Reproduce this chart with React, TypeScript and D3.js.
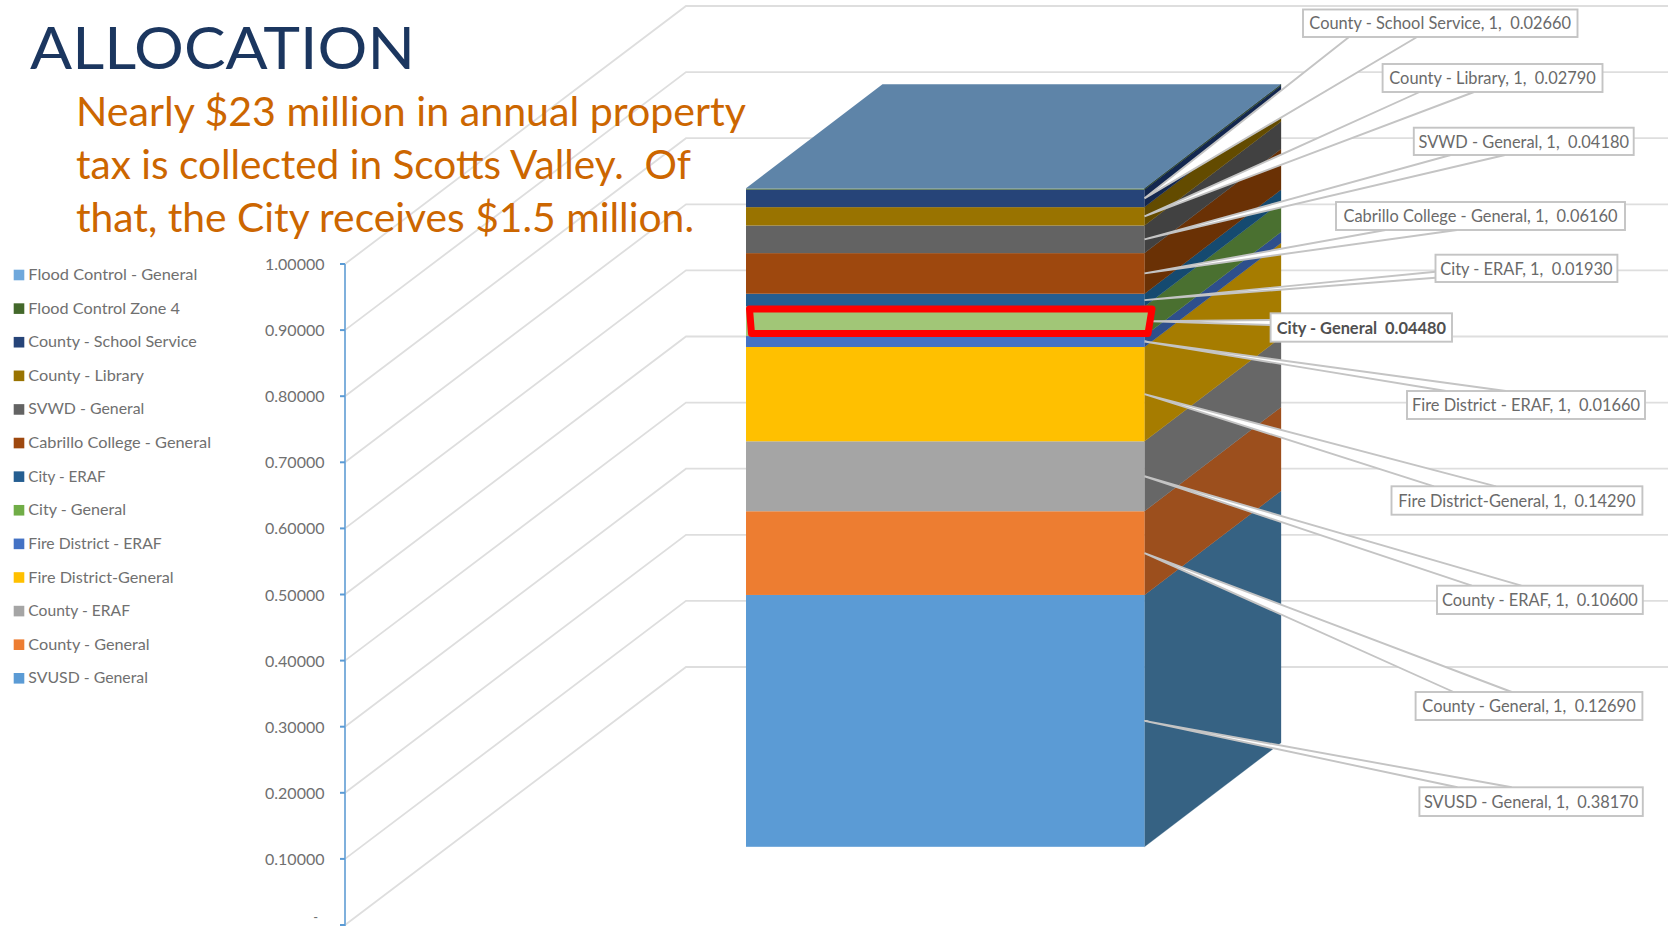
import React from "react";
import * as d3 from "d3";

const seriesNames = ["SVUSD - General","County - General","County - ERAF","Fire District-General","Fire District - ERAF","City - General","City - ERAF","Cabrillo College - General","SVWD - General","County - Library","County - School Service","Flood Control Zone 4","Flood Control - General"];
const seriesValues = [0.3817,0.1269,0.106,0.1429,0.0166,0.0448,0.0193,0.0616,0.0418,0.0279,0.0266,0.0015,0.0005];
const axisTicks = [0,0.1,0.2,0.3,0.4,0.5,0.6,0.7,0.8,0.9,1];
const bodyLines = ["Nearly $23 million in annual property","tax is collected in Scotts Valley.  Of","that, the City receives $1.5 million."];

// styles and layout, kept apart from the values
const frontColors = ["#5B9BD5","#ED7D31","#A5A5A5","#FFC000","#4472C4","#A1C677","#255E91","#9E480E","#636363","#997300","#264478","#43682B","#5E84A8"];
const sideColors = ["#366283","#9C4F1D","#676767","#A67C00","#2E4F8C","#4A7030","#154A70","#6A3105","#414141","#634B00","#13274F","#2F4A1E","#10263F"];
const legendColors = ["#5B9BD5","#ED7D31","#A5A5A5","#FFC000","#4472C4","#70AD47","#255E91","#9E480E","#636363","#997300","#264478","#43682B","#6FA8DC"];
const legendEnds = [148,149.7,130,173.7,161.7,126,105.7,211,144.3,144,196.7,180,197.3];
type Box = { x0:number; x1:number; y0:number; y1:number; side:"top"|"bottom"|"left"; a:number; b:number };
const labelBoxes: (Box|null)[] = [
  {x0:1419.4,x1:1642.8,y0:787.3,y1:816,side:"top",a:1457.4,b:1511.7},
  {x0:1415.6,x1:1642.4,y0:692,y1:720,side:"top",a:1453.6,b:1511.7},
  {x0:1437,x1:1642.8,y0:585.7,y1:614,side:"top",a:1471.8,b:1521.4},
  {x0:1391.5,x1:1642.4,y0:486.3,y1:514.7,side:"top",a:1434,b:1496},
  {x0:1407,x1:1645,y0:391,y1:419,side:"top",a:1446,b:1505.8},
  {x0:1270.6,x1:1452,y0:313.3,y1:341.7,side:"left",a:320,b:325},
  {x0:1435.5,x1:1617.4,y0:254.7,y1:282,side:"left",a:271.7,b:277.7},
  {x0:1336,x1:1625,y0:202,y1:230,side:"bottom",a:1385.5,b:1457},
  {x0:1413.8,x1:1633.7,y0:127.7,y1:155,side:"bottom",a:1450.7,b:1505},
  {x0:1382.6,x1:1602.5,y0:64,y1:92,side:"bottom",a:1419.6,b:1474},
  {x0:1303,x1:1577.5,y0:9.5,y1:37,side:"bottom",a:1349,b:1417},
  null,null,
];

const W = 1668, H = 926;
const FONT = "Lato, 'Noto Sans', sans-serif";
const axisX = 345;
const axisY = d3.scaleLinear().domain([0,1]).range([925,264]);
const barY = d3.scaleLinear().domain([0,1]).range([846.8,187]);
const barX0 = 746, barX1 = 1144.5;
const depthX = 136.5, depthY = -104;
const gridDx = 341, gridDy = -258;

const fmt = d3.format(".5f");
const poly = (pts:[number,number][]) => (d3.line()(pts) as string) + "Z";

const stackRows = [Object.fromEntries(seriesNames.map((n,i)=>[n,seriesValues[i]]))];
const stacked = d3.stack().keys(seriesNames)(stackRows as any);
const layers = stacked.map((s,i)=>({name:seriesNames[i],v:seriesValues[i],lo:s[0][0],hi:s[0][1],i}));
const byName = layers.slice().reverse();
const legendY = d3.scalePoint().domain(byName.map(d=>d.name)).range([275,678.3]);
const cityIdx = seriesNames.indexOf("City - General");

export default function App(){
  const topY = barY(d3.sum(seriesValues));
  return (
    <svg width={W} height={H} viewBox={`0 0 ${W} ${H}`} style={{position:"absolute",left:0,top:0,display:"block",background:"#fff"}}>
      {/* walls */}
      {axisTicks.map(t=>{
        const y=axisY(t);
        return <path key={t} fill="none" stroke="#DEDEDE" strokeWidth={1.8}
          d={d3.line()([[axisX,y],[axisX+gridDx,y+gridDy],[W,y+gridDy]]) as string}/>;
      })}
      {/* axis */}
      <line x1={axisX} x2={axisX} y1={axisY(1)} y2={axisY(0)+1} stroke="#7FB0DC" strokeWidth={2}/>
      {axisTicks.map(t=>(
        <g key={t}>
          <line x1={axisX-5} x2={axisX} y1={axisY(t)} y2={axisY(t)} stroke="#5B9BD5" strokeWidth={2}/>
          {t===0
            ? <text x={318} y={922} textAnchor="end" fontFamily={FONT} fontSize={13} fill="#707070">-</text>
            : <text x={324.5} y={axisY(t)+2} textAnchor="end" dominantBaseline="middle" fontFamily={FONT} fontSize={16} fill="#707070">{fmt(t)}</text>}
        </g>
      ))}
      {/* bar */}
      {layers.map(l=>(
        <g key={l.name}>
          <path fill={sideColors[l.i]} stroke={sideColors[l.i]} strokeWidth={0.3} d={poly([[barX1,barY(l.lo)],[barX1+depthX,barY(l.lo)+depthY],[barX1+depthX,barY(l.hi)+depthY],[barX1,barY(l.hi)]])}/>
          <rect x={barX0} width={barX1-barX0} y={barY(l.hi)} height={barY(l.lo)-barY(l.hi)} fill={frontColors[l.i]}/>
        </g>
      ))}
      <path fill="#5E84A8" d={poly([[barX0,topY],[barX1,topY],[barX1+depthX,topY+depthY],[barX0+depthX,topY+depthY]])}/>
      {/* callout wedges */}
      {layers.map(l=>{
        const b=labelBoxes[l.i]; if(!b) return null;
        const isCity=l.i===cityIdx;
        const apex:[number,number]=[isCity?1152:barX1,barY((l.lo+l.hi)/2)];
        const p:[number,number]= b.side==="top"?[b.a,b.y0]:b.side==="bottom"?[b.a,b.y1]:[b.x0,b.a];
        const q:[number,number]= b.side==="top"?[b.b,b.y0]:b.side==="bottom"?[b.b,b.y1]:[b.x0,b.b];
        return <g key={l.name}>
          <path fill="#fff" d={poly([apex,p,q])}/>
          <path fill="none" stroke="#C4C4C4" strokeWidth={1.9} d={d3.line()([p,apex,q]) as string}/>
        </g>;
      })}
      {/* highlight */}
      <path fill="#A1C677" stroke="#FF0000" strokeWidth={7} strokeLinejoin="round"
        d={poly([[749.5,309],[1152,309],[1148,333.5],[751.5,333.5]])}/>
      {/* callout boxes */}
      {layers.map(l=>{
        const b=labelBoxes[l.i]; if(!b) return null;
        const isCity=l.i===cityIdx;
        const txt=isCity?`${l.name}  ${fmt(l.v)}`:`${l.name}, 1,  ${fmt(l.v)}`;
        return <g key={l.name}>
          <rect x={b.x0} y={b.y0} width={b.x1-b.x0} height={b.y1-b.y0} fill="#fff" stroke="#C4C4C4" strokeWidth={1.9}/>
          <text x={(b.x0+b.x1)/2} y={(b.y0+b.y1)/2+2} textAnchor="middle" dominantBaseline="middle" fontFamily={FONT} fontSize={16.4}
            fontWeight={isCity?700:400} fill={isCity?"#505050":"#6A6A6A"} style={{whiteSpace:"pre"}}>{txt}</text>
        </g>;
      })}
      {/* legend */}
      {byName.map(l=>{
        const y=legendY(l.name) as number;
        return <g key={l.name}>
          <rect x={13.7} y={y-5.3} width={10.6} height={10.6} fill={legendColors[l.i]}/>
          <text x={28.3} y={y+1} dominantBaseline="middle" fontFamily={FONT} fontSize={16} fill="#707070"
            textLength={legendEnds[l.i]-28.3} lengthAdjust="spacingAndGlyphs">{l.name}</text>
        </g>;
      })}
      {/* heading */}
      <text x={30} y={69} fontFamily={FONT} fontSize={59} fill="#1B365F" textLength={385} lengthAdjust="spacingAndGlyphs">ALLOCATION</text>
      {bodyLines.map((t,i)=>(
        <text key={t} x={76} y={[126,179.3,231.7][i]} fontFamily={FONT} fontSize={40} fill="#CC6600" style={{whiteSpace:"pre"}}
          textLength={[670,615,618][i]} lengthAdjust="spacingAndGlyphs">{t}</text>
      ))}
    </svg>
  );
}
